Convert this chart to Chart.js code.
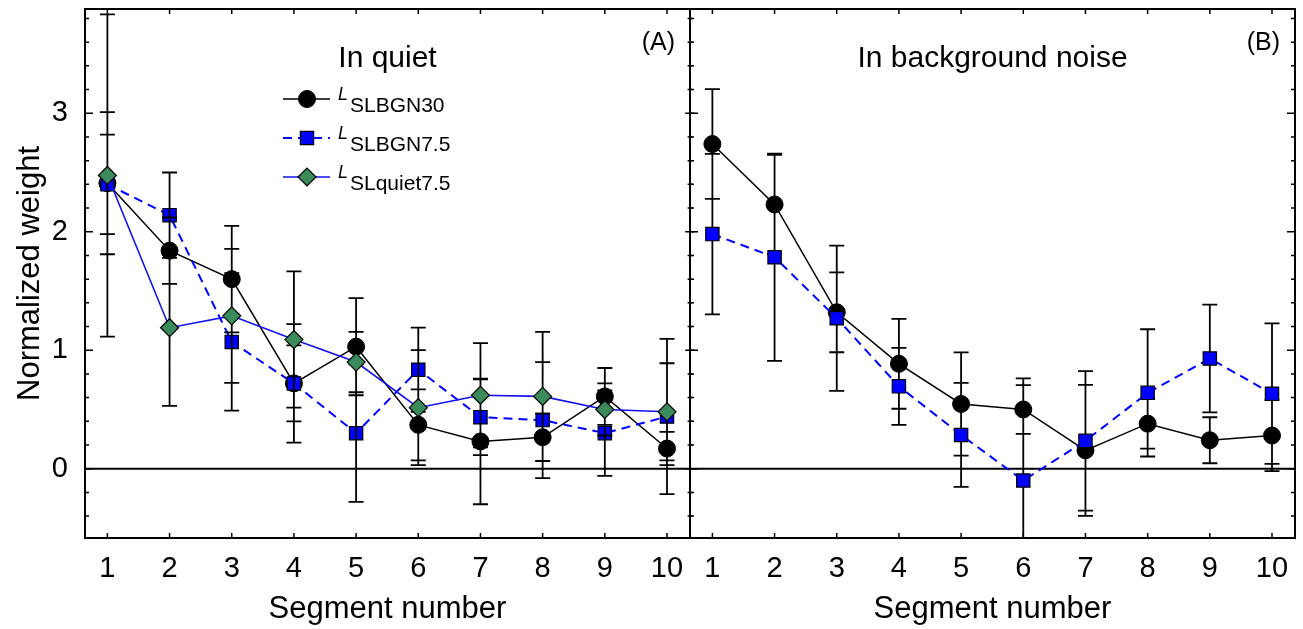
<!DOCTYPE html>
<html>
<head>
<meta charset="utf-8">
<script src="https://cdn.jsdelivr.net/npm/chart.js@4.4.1/dist/chart.umd.min.js"></script>
<style>
  html, body { margin: 0; padding: 0; background: #fff; }
  #wrap { position: relative; width: 1303px; height: 629px; overflow: hidden; }
  .panel { position: absolute; top: 0; height: 629px; }
  #panelA { left: 0; width: 695px; }
  #panelB { left: 685px; width: 618px; }
</style>
</head>
<body>
<div id="wrap">
  <div class="panel" id="panelA"><canvas id="chartA"></canvas></div>
  <div class="panel" id="panelB"><canvas id="chartB"></canvas></div>
</div>
<script>
const segments = [1, 2, 3, 4, 5, 6, 7, 8, 9, 10];
const yTicks = [0, 1, 2, 3];

// (A) in quiet
const quietBGN30 = [2.41, 1.84, 1.60, 0.72, 1.03, 0.37, 0.23, 0.265, 0.61, 0.17];
const quietBGN30Err = [0.60, 0.28, 0.45, 0.32, 0.41, 0.30, 0.53, 0.20, 0.24, 0.14];
const quietBGN75 = [2.40, 2.14, 1.07, 0.72, 0.30, 0.835, 0.435, 0.41, 0.30, 0.44];
const quietBGN75Err = [0.42, 0.36, 0.58, 0.50, 0.58, 0.355, 0.32, 0.49, 0.36, 0.655];
const quietQuiet75 = [2.475, 1.19, 1.29, 1.09, 0.90, 0.515, 0.62, 0.61, 0.50, 0.48];
const quietQuiet75Err = [1.36, 0.66, 0.565, 0.575, 0.255, 0.485, 0.44, 0.545, 0.22, 0.41];

// (B) in background noise
const noiseBGN30 = [2.74, 2.23, 1.32, 0.885, 0.546, 0.50, 0.155, 0.38, 0.24, 0.28];
const noiseBGN30Err = [0.463, 0.418, 0.337, 0.379, 0.436, 0.206, 0.553, 0.211, 0.194, 0.30];
const noiseBGN75 = [1.98, 1.785, 1.27, 0.695, 0.285, -0.10, 0.235, 0.64, 0.93, 0.633];
const noiseBGN75Err = [0.678, 0.875, 0.613, 0.325, 0.439, 0.863, 0.589, 0.537, 0.455, 0.593];

const seriesNames = ['SLBGN30', 'SLBGN7.5', 'SLquiet7.5'];
const panelTitles = ['In quiet', 'In background noise'];
const panelTags = ['(A)', '(B)'];

const FONT = "'Liberation Sans', Arial, sans-serif";
Chart.defaults.font.family = FONT;
Chart.defaults.color = '#000';

const styleBGN30 = {
    borderColor: '#000', borderWidth: 1.5,
    pointStyle: 'circle', pointRadius: 8.5,
    pointBackgroundColor: '#000', pointBorderColor: '#000', pointBorderWidth: 1
};
const styleBGN75 = {
    borderColor: '#0000ff', borderWidth: 2, borderDash: [9, 6],
    pointStyle: 'rect', pointRadius: 9.4,
    pointBackgroundColor: '#0000ff', pointBorderColor: '#000', pointBorderWidth: 1.2
};
const styleQuiet75 = {
    borderColor: '#1010f0', borderWidth: 1.6,
    pointStyle: 'rectRot', pointRadius: 9,
    pointBackgroundColor: '#3a8a5c', pointBorderColor: '#000', pointBorderWidth: 1.2
};

function series(values, errors, style, order) {
    return {
        data: segments.map((s, i) => ({ x: s, y: values[i] })),
        errors: errors,
        order: order,
        tension: 0,
        ...style
    };
}

function drawMarker(ctx, ds, x, y) {
    const r = ds.pointRadius;
    ctx.save();
    ctx.fillStyle = ds.pointBackgroundColor;
    ctx.strokeStyle = ds.pointBorderColor;
    ctx.lineWidth = ds.pointBorderWidth;
    ctx.setLineDash([]);
    ctx.beginPath();
    if (ds.pointStyle === 'rect') {
        const s = r * Math.SQRT1_2;
        ctx.rect(x - s, y - s, 2 * s, 2 * s);
    } else if (ds.pointStyle === 'rectRot') {
        ctx.moveTo(x - r, y); ctx.lineTo(x, y - r);
        ctx.lineTo(x + r, y); ctx.lineTo(x, y + r);
        ctx.closePath();
    } else {
        ctx.arc(x, y, r, 0, Math.PI * 2);
    }
    ctx.fill();
    ctx.stroke();
    ctx.restore();
}

function drawErrorBars(chart) {
    const { ctx, chartArea: a, scales: { y } } = chart;
    ctx.save();
    ctx.beginPath();
    ctx.rect(a.left, a.top, a.right - a.left, a.bottom - a.top);
    ctx.clip();
    ctx.strokeStyle = '#000';
    ctx.lineWidth = 1.8;
    ctx.beginPath();
    chart.data.datasets.forEach((ds, di) => {
        const meta = chart.getDatasetMeta(di);
        meta.data.forEach((pt, i) => {
            const v = ds.data[i].y, e = ds.errors[i];
            const top = y.getPixelForValue(v + e);
            const bot = y.getPixelForValue(v - e);
            ctx.moveTo(pt.x, top); ctx.lineTo(pt.x, bot);
            ctx.moveTo(pt.x - 7.5, top); ctx.lineTo(pt.x + 7.5, top);
            ctx.moveTo(pt.x - 7.5, bot); ctx.lineTo(pt.x + 7.5, bot);
        });
    });
    ctx.stroke();
    ctx.restore();
}

const errorBars = {
    id: 'errorBars',
    beforeDatasetsDraw(chart, args, opts) {
        if (opts.before === 'all') drawErrorBars(chart);
    },
    beforeDatasetDraw(chart, args, opts) {
        if (args.index === opts.before) drawErrorBars(chart);
    }
};

const frame = {
    id: 'frame',
    beforeDatasetsDraw(chart) {
        const { ctx, chartArea: a, scales: { y } } = chart;
        const y0 = y.getPixelForValue(0);
        ctx.save();
        ctx.strokeStyle = '#000';
        ctx.lineWidth = 2;
        ctx.beginPath();
        ctx.moveTo(a.left, y0); ctx.lineTo(a.right, y0);
        ctx.stroke();
        ctx.restore();
    },
    afterDraw(chart, args, opts) {
        const { ctx, chartArea: a, scales: { x, y } } = chart;
        ctx.save();
        ctx.strokeStyle = '#000';
        ctx.lineWidth = 2;
        ctx.strokeRect(a.left, a.top, a.right - a.left, a.bottom - a.top);
        ctx.lineWidth = 1.5;
        ctx.beginPath();
        x.ticks.forEach(t => {
            const px = x.getPixelForValue(t.value);
            ctx.moveTo(px, a.bottom); ctx.lineTo(px, a.bottom - 5);
            ctx.moveTo(px, a.top); ctx.lineTo(px, a.top + 5);
        });
        for (let k = Math.ceil(y.min * 5); k <= Math.floor(y.max * 5); k++) {
            const py = y.getPixelForValue(k / 5);
            const len = k % 5 === 0 ? 8 : 4;
            ctx.moveTo(a.left, py); ctx.lineTo(a.left + len, py);
            ctx.moveTo(a.right, py); ctx.lineTo(a.right - len * opts.rightIn, py);
            if (opts.rightOut) { ctx.moveTo(a.right, py); ctx.lineTo(a.right + len * 0.6, py); }
        }
        ctx.stroke();
        ctx.restore();
    }
};

const panelText = {
    id: 'panelText',
    afterDraw(chart, args, opts) {
        const { ctx, chartArea: a } = chart;
        ctx.save();
        ctx.fillStyle = '#000';
        ctx.textBaseline = 'alphabetic';
        ctx.font = '30px ' + FONT;
        ctx.textAlign = 'center';
        ctx.fillText(opts.title, (a.left + a.right) / 2, a.top + 57.5);
        ctx.font = '25px ' + FONT;
        ctx.textAlign = 'right';
        ctx.fillText(opts.tag, a.right - 15, a.top + 41);
        ctx.restore();
    }
};

const seriesKey = {
    id: 'seriesKey',
    afterDraw(chart, args, opts) {
        if (!opts.show) return;
        const ctx = chart.ctx;
        chart.data.datasets.forEach((ds, i) => {
            const yy = opts.top + i * opts.gap;
            ctx.save();
            ctx.strokeStyle = ds.borderColor;
            ctx.lineWidth = ds.borderWidth;
            ctx.setLineDash(ds.borderDash || []);
            ctx.beginPath();
            ctx.moveTo(opts.left, yy); ctx.lineTo(opts.left + 47, yy);
            ctx.stroke();
            ctx.restore();
            drawMarker(ctx, ds, opts.left + 24, yy);
            ctx.save();
            ctx.fillStyle = '#000';
            ctx.textAlign = 'left';
            ctx.textBaseline = 'alphabetic';
            ctx.font = 'italic 18px ' + FONT;
            ctx.fillText('L', opts.left + 55, yy + 1);
            ctx.font = '21px ' + FONT;
            ctx.fillText(seriesNames[i], opts.left + 67, yy + 12.5);
            ctx.restore();
        });
    }
};

function panelOptions(idx, showY, pad, barsBefore) {
    return {
        responsive: true,
        maintainAspectRatio: false,
        animation: false,
        events: [],
        layout: { padding: pad, autoPadding: false },
        plugins: {
            legend: { display: false },
            tooltip: { enabled: false },
            errorBars: { before: barsBefore },
            frame: { rightIn: idx === 0 ? 0.6 : 1, rightOut: idx === 0 },
            panelText: { title: panelTitles[idx], tag: panelTags[idx] },
            seriesKey: { show: idx === 0, left: 283, top: 99, gap: 39 }
        },
        scales: {
            x: {
                type: 'linear',
                min: 0.64,
                max: 10.37,
                afterBuildTicks: s => { s.ticks = segments.map(v => ({ value: v })); },
                afterFit: s => { s.height = 91; s.paddingLeft = 0; s.paddingRight = 0; },
                grid: { display: false, drawTicks: false },
                border: { display: false },
                ticks: { font: { size: 29 }, color: '#000', padding: 14, maxRotation: 0, autoSkip: false },
                title: { display: true, text: 'Segment number', font: { size: 31 }, color: '#000', padding: { top: 0, bottom: 1 } }
            },
            y: {
                type: 'linear',
                display: showY,
                min: -0.585,
                max: 3.88,
                afterBuildTicks: s => { s.ticks = yTicks.map(v => ({ value: v })); },
                afterFit: s => {
                    s.paddingTop = 0; s.paddingBottom = 0;
                    if (showY) s.width = 85;
                },
                grid: { display: false, drawTicks: false },
                border: { display: false },
                ticks: { font: { size: 29 }, color: '#000', padding: 17 },
                title: { display: true, text: 'Normalized weight', font: { size: 31 }, color: '#000', padding: { top: 12, bottom: 0 } }
            }
        }
    };
}

const plugins = [frame, errorBars, panelText, seriesKey];

new Chart(document.getElementById('chartA'), {
    type: 'line',
    data: {
        datasets: [
            series(quietBGN30, quietBGN30Err, styleBGN30, 2),
            series(quietBGN75, quietBGN75Err, styleBGN75, 1),
            series(quietQuiet75, quietQuiet75Err, styleQuiet75, 0)
        ]
    },
    options: panelOptions(0, true, { left: 0, right: 5, top: 9, bottom: 0 }, 2),
    plugins: plugins
});

new Chart(document.getElementById('chartB'), {
    type: 'line',
    data: {
        datasets: [
            series(noiseBGN30, noiseBGN30Err, styleBGN30, 1),
            series(noiseBGN75, noiseBGN75Err, styleBGN75, 0)
        ]
    },
    options: panelOptions(1, false, { left: 5, right: 8, top: 9, bottom: 0 }, 'all'),
    plugins: plugins
});
</script>
</body>
</html>
